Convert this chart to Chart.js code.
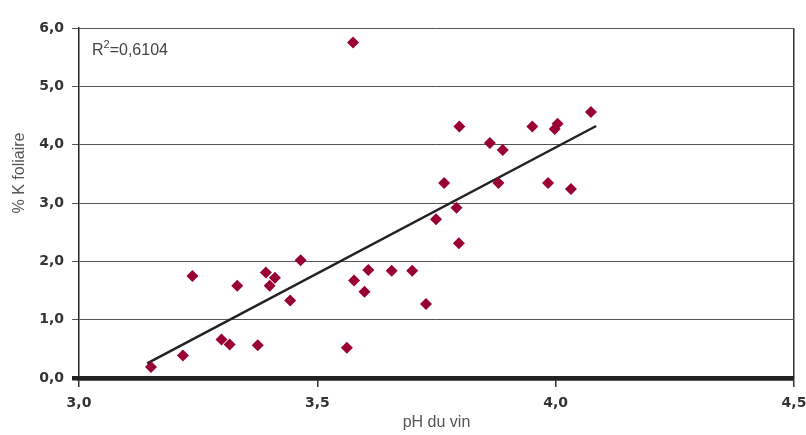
<!DOCTYPE html>
<html lang="fr">
<head>
    <meta charset="UTF-8">
    <title>pH du vin / % K foliaire</title>
    <script src="https://cdn.jsdelivr.net/npm/chart.js"></script>
    <style>
        html, body { margin: 0; padding: 0; background: #fff; }
        #wrap { width: 806px; height: 435px; position: relative; }
    </style>
</head>
<body>
    <div id="wrap"><canvas id="scatterChart"></canvas></div>
    <script>
        // values
        const phValues = [3.151, 3.218, 3.238, 3.299, 3.316, 3.332, 3.375, 3.392, 3.400, 3.411,
                          3.443, 3.465, 3.562, 3.577, 3.599, 3.607, 3.656, 3.699, 3.728, 3.749,
                          3.766, 3.792, 3.797, 3.575, 3.798, 3.862, 3.880, 3.889, 3.951, 3.984,
                          3.998, 4.004, 4.032, 4.074];
        const kValues = [0.19, 0.385, 1.75, 0.66, 0.575, 1.58, 0.56, 1.81, 1.58, 1.72,
                         1.33, 2.02, 0.52, 1.67, 1.48, 1.85, 1.84, 1.84, 1.27, 2.72,
                         3.345, 2.92, 2.31, 5.75, 4.31, 4.03, 3.345, 3.91, 4.31, 3.345,
                         4.27, 4.36, 3.24, 4.56];
        // linear trend line, ends
        const trendPh = [3.143, 4.085];
        const trendK = [0.25, 4.32];
        const xTicks = [3.0, 3.5, 4.0, 4.5];
        const yTicks = [0, 1, 2, 3, 4, 5, 6];
        const r2Value = '0,6104';
        const yTitle = '% K foliaire';

        const fmt = v => Number(v).toFixed(1).replace('.', ',');
        const tickFont = { family: '"DejaVu Sans", sans-serif', size: 14, weight: 'bold' };

        // R² note and y axis title, drawn by hand so they sit where the original has them
        const textPlugin = {
            id: 'extraText',
            afterDraw(chart) {
                const ctx = chart.ctx;
                ctx.save();
                ctx.fillStyle = '#444';
                ctx.textBaseline = 'alphabetic';
                ctx.font = '16px "Liberation Sans", Arial, sans-serif';
                let x = 92;
                ctx.fillText('R', x, 55);
                x += ctx.measureText('R').width;
                ctx.font = '11px "Liberation Sans", Arial, sans-serif';
                ctx.fillText('2', x, 48);
                x += ctx.measureText('2').width;
                ctx.font = '16px "Liberation Sans", Arial, sans-serif';
                ctx.fillText('=' + r2Value, x, 55);

                ctx.fillStyle = '#555';
                ctx.translate(24, 173);
                ctx.rotate(-Math.PI / 2);
                ctx.textAlign = 'center';
                ctx.fillText(yTitle, 0, 0);
                ctx.restore();
            }
        };

        new Chart(document.getElementById('scatterChart'), {
            type: 'scatter',
            data: {
                datasets: [{
                    label: 'Trend',
                    type: 'line',
                    data: trendPh.map((x, i) => ({ x: x, y: trendK[i] })),
                    borderColor: '#222',
                    borderWidth: 2.5,
                    pointRadius: 0,
                    fill: false,
                    order: 2
                }, {
                    label: yTitle,
                    data: phValues.map((x, i) => ({ x: x, y: kValues[i] })),
                    backgroundColor: '#990033',
                    borderColor: '#990033',
                    pointStyle: 'rectRot',
                    pointRadius: 6,
                    borderWidth: 0,
                    order: 1
                }]
            },
            options: {
                responsive: true,
                maintainAspectRatio: false,
                animation: false,
                layout: { padding: { top: 28, right: 12, left: 0, bottom: 0 } },
                plugins: {
                    legend: { display: false },
                    tooltip: { enabled: false }
                },
                scales: {
                    x: {
                        type: 'linear',
                        min: 3.0,
                        max: 4.5,
                        afterBuildTicks: s => { s.ticks = xTicks.map(v => ({ value: v })); },
                        afterFit: s => { s.height = 57; s.paddingRight = 0; s.paddingLeft = 0; },
                        border: { color: '#222', width: 4.5 },
                        grid: {
                            color: c => (c.tick && c.tick.value === 4.5) ? '#333' : 'rgba(0,0,0,0)',
                            lineWidth: 1.5,
                            tickColor: '#333',
                            tickLength: 9,
                            drawTicks: true
                        },
                        ticks: {
                            callback: v => fmt(v),
                            font: tickFont,
                            color: '#333',
                            padding: 8,
                            maxRotation: 0
                        },
                        title: {
                            display: true,
                            text: 'pH du vin',
                            font: { family: '"Liberation Sans", Arial, sans-serif', size: 16 },
                            color: '#555',
                            padding: { top: 0, bottom: 3 }
                        }
                    },
                    y: {
                        min: 0,
                        max: 6,
                        afterBuildTicks: s => { s.ticks = yTicks.map(v => ({ value: v })); },
                        afterFit: s => { s.width = 79; s.paddingTop = 0; s.paddingBottom = 0; },
                        border: { color: '#222', width: 1.5 },
                        grid: {
                            color: c => (c.tick && c.tick.value === 0) ? '#222' : '#555',
                            lineWidth: c => (c.tick && c.tick.value === 0) ? 4.5 : 1,
                            drawTicks: true,
                            tickLength: 7
                        },
                        ticks: {
                            callback: v => fmt(v),
                            font: tickFont,
                            color: '#333',
                            padding: 8
                        },
                        title: { display: false }
                    }
                }
            },
            plugins: [textPlugin]
        });
    </script>
</body>
</html>
